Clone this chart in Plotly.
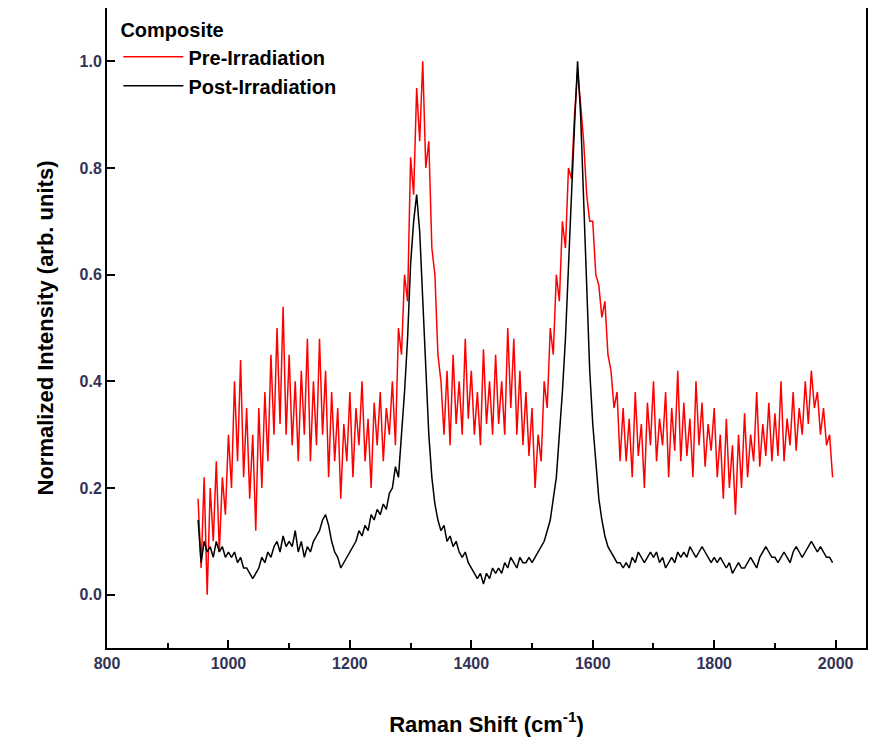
import plotly.graph_objects as go

# Raman shift grid (cm^-1), 5 cm^-1 spacing
shift = list(range(950, 2000, 5))

pre_irradiation = [
    0.18, 0.05, 0.22, 0.00, 0.20, 0.10, 0.25, 0.08, 0.22, 0.15,
    0.30, 0.20, 0.40, 0.25, 0.44, 0.22, 0.35, 0.18, 0.30, 0.12,
    0.35, 0.20, 0.38, 0.25, 0.45, 0.30, 0.50, 0.32, 0.54, 0.30,
    0.45, 0.28, 0.40, 0.25, 0.42, 0.30, 0.48, 0.25, 0.40, 0.28,
    0.48, 0.30, 0.42, 0.22, 0.38, 0.25, 0.35, 0.18, 0.32, 0.25,
    0.38, 0.22, 0.35, 0.28, 0.40, 0.25, 0.33, 0.20, 0.36, 0.28,
    0.38, 0.25, 0.35, 0.30, 0.40, 0.28, 0.50, 0.45, 0.60, 0.55,
    0.82, 0.75, 0.95, 0.85, 1.00, 0.80, 0.85, 0.65, 0.60, 0.45,
    0.40, 0.30, 0.42, 0.28, 0.45, 0.32, 0.40, 0.30, 0.48, 0.33,
    0.42, 0.30, 0.38, 0.28, 0.46, 0.32, 0.40, 0.30, 0.45, 0.32,
    0.40, 0.30, 0.50, 0.35, 0.48, 0.30, 0.42, 0.28, 0.38, 0.26,
    0.35, 0.20, 0.30, 0.25, 0.40, 0.35, 0.50, 0.45, 0.60, 0.55,
    0.70, 0.65, 0.80, 0.78, 0.90, 0.98, 0.92, 0.85, 0.75, 0.70,
    0.70, 0.60, 0.58, 0.52, 0.55, 0.45, 0.42, 0.35, 0.38, 0.25,
    0.35, 0.25, 0.33, 0.22, 0.38, 0.26, 0.32, 0.20, 0.36, 0.28,
    0.40, 0.25, 0.33, 0.28, 0.38, 0.22, 0.35, 0.27, 0.42, 0.25,
    0.36, 0.26, 0.33, 0.22, 0.40, 0.28, 0.36, 0.24, 0.32, 0.27,
    0.35, 0.22, 0.30, 0.18, 0.33, 0.20, 0.28, 0.15, 0.30, 0.20,
    0.34, 0.22, 0.30, 0.25, 0.38, 0.24, 0.32, 0.26, 0.36, 0.25,
    0.34, 0.26, 0.40, 0.25, 0.33, 0.28, 0.38, 0.27, 0.35, 0.30,
    0.40, 0.32, 0.42, 0.35, 0.38, 0.30, 0.35, 0.28, 0.30, 0.22,
]

post_irradiation = [
    0.14, 0.06, 0.10, 0.08, 0.09, 0.07, 0.10, 0.08, 0.09, 0.07,
    0.08, 0.07, 0.08, 0.06, 0.07, 0.05, 0.05, 0.04, 0.03, 0.04,
    0.05, 0.07, 0.06, 0.08, 0.07, 0.09, 0.10, 0.08, 0.11, 0.09,
    0.10, 0.09, 0.12, 0.08, 0.10, 0.07, 0.09, 0.08, 0.10, 0.11,
    0.12, 0.14, 0.15, 0.13, 0.10, 0.08, 0.07, 0.05, 0.06, 0.07,
    0.08, 0.09, 0.10, 0.12, 0.11, 0.13, 0.12, 0.15, 0.14, 0.16,
    0.15, 0.17, 0.16, 0.19, 0.20, 0.24, 0.22, 0.30, 0.38, 0.48,
    0.62, 0.70, 0.75, 0.68, 0.55, 0.42, 0.30, 0.22, 0.17, 0.14,
    0.12, 0.13, 0.10, 0.11, 0.09, 0.10, 0.08, 0.07, 0.08, 0.06,
    0.05, 0.04, 0.03, 0.04, 0.02, 0.04, 0.03, 0.05, 0.04, 0.05,
    0.04, 0.06, 0.05, 0.07, 0.06, 0.05, 0.07, 0.06, 0.06, 0.07,
    0.06, 0.07, 0.08, 0.09, 0.10, 0.12, 0.14, 0.18, 0.22, 0.30,
    0.38, 0.48, 0.60, 0.75, 0.88, 1.00, 0.90, 0.75, 0.58, 0.42,
    0.32, 0.24, 0.18, 0.14, 0.11, 0.09, 0.08, 0.07, 0.06, 0.06,
    0.05, 0.06, 0.05, 0.07, 0.06, 0.08, 0.07, 0.06, 0.07, 0.08,
    0.07, 0.08, 0.06, 0.07, 0.05, 0.06, 0.07, 0.06, 0.08, 0.07,
    0.08, 0.07, 0.09, 0.08, 0.07, 0.08, 0.09, 0.08, 0.07, 0.06,
    0.07, 0.06, 0.07, 0.06, 0.05, 0.06, 0.04, 0.05, 0.06, 0.05,
    0.05, 0.06, 0.07, 0.06, 0.05, 0.07, 0.08, 0.09, 0.08, 0.07,
    0.07, 0.06, 0.07, 0.08, 0.07, 0.06, 0.08, 0.09, 0.08, 0.07,
    0.08, 0.09, 0.10, 0.09, 0.08, 0.09, 0.08, 0.07, 0.07, 0.06,
]

FONT = "Liberation Sans"

fig = go.Figure()
fig.add_trace(go.Scatter(x=shift, y=pre_irradiation, mode="lines",
                         name="<b>Pre-Irradiation</b>", line=dict(color="#ff0000", width=1.5)))
fig.add_trace(go.Scatter(x=shift, y=post_irradiation, mode="lines",
                         name="<b>Post-Irradiation</b>", line=dict(color="#000000", width=1.5)))

axis_common = dict(
    showline=True, linecolor="black", linewidth=2, mirror=True,
    ticks="inside", ticklen=8, tickwidth=2, tickcolor="black",
    showgrid=False, zeroline=False, automargin=False,
    tickfont=dict(family=FONT, size=16, color="#333355", weight="bold"),
)

fig.update_layout(
    width=888, height=748,
    margin=dict(l=99, r=30, t=0, b=108),
    plot_bgcolor="white", paper_bgcolor="white",
    font=dict(family=FONT, color="black"),
    showlegend=True,
    legend=dict(
        x=0.015, y=0.995, xanchor="left", yanchor="top",
        bgcolor="rgba(0,0,0,0)",
        title=dict(text="<b>Composite</b>", font=dict(family=FONT, size=20)),
        font=dict(family=FONT, size=20),
        itemwidth=60,
    ),
    xaxis=dict(
        range=[800, 2050], dtick=200,
        minor=dict(ticks="inside", ticklen=5, tickwidth=2, dtick=100, tickcolor="black"),
        title=dict(text="<b>Raman Shift (cm<sup>-1</sup>)</b>",
                   font=dict(family=FONT, size=22), standoff=45),
        **axis_common,
    ),
    yaxis=dict(
        range=[-0.1, 1.1], dtick=0.2, tickformat=".1f",
        title=dict(text="<b>Normalized Intensity (arb. units)</b>",
                   font=dict(family=FONT, size=22), standoff=20),
        **axis_common,
    ),
)

fig.write_html("out.html")
